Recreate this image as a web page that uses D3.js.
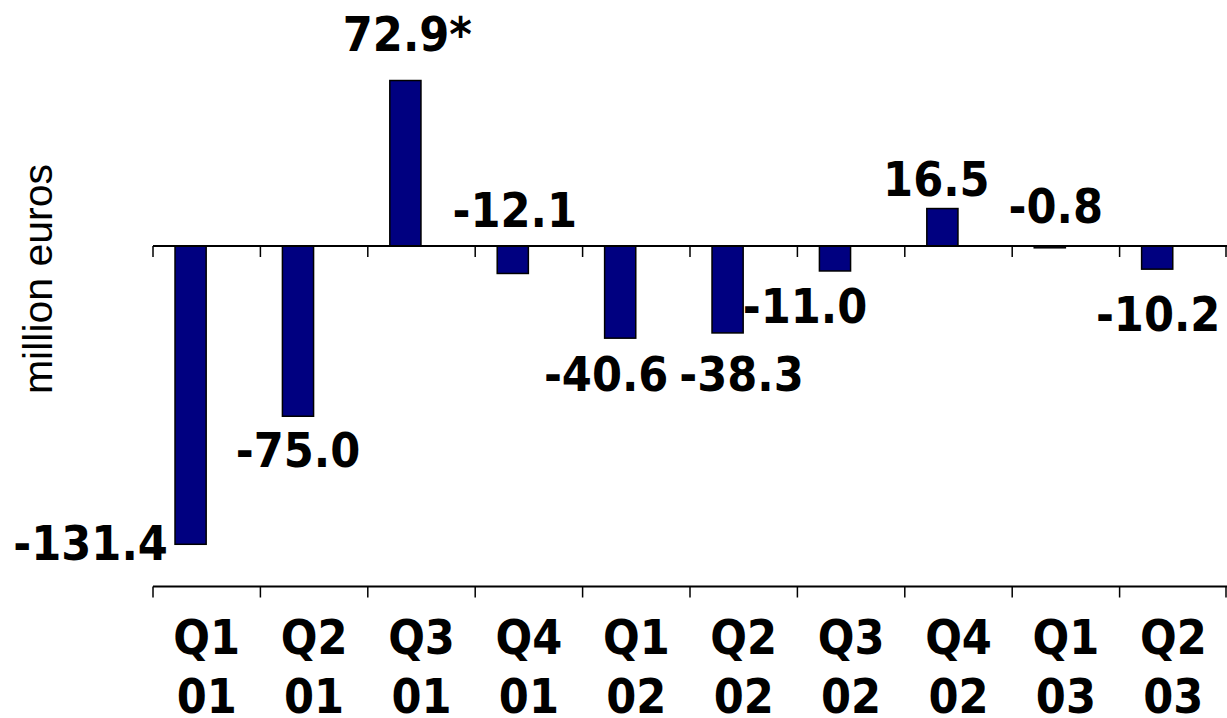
<!DOCTYPE html>
<html>
<head>
<meta charset="utf-8">
<script src="https://cdn.jsdelivr.net/npm/d3@7/dist/d3.min.js"></script>
<style>
  html, body { margin: 0; padding: 0; background: #fff; }
  svg { display: block; }
</style>
</head>
<body>
<svg></svg>
<script>
// DATA
const quarters = ['Q1', 'Q2', 'Q3', 'Q4', 'Q1', 'Q2', 'Q3', 'Q4', 'Q1', 'Q2'];
const years = ['01', '01', '01', '01', '02', '02', '02', '02', '03', '03'];
const values = [-131.4, -75.0, 72.9, -12.1, -40.6, -38.3, -11.0, 16.5, -0.8, -10.2];
const valueLabels = ['-131.4', '-75.0', '72.9*', '-12.1', '-40.6', '-38.3', '-11.0', '16.5', '-0.8', '-10.2'];

// label nudges (px), relative to the bar end
const labelDx = [-100, 0, 2, 2, -14, 14, -30, -6, 6, 1];
const labelDy = [16, 51, -30, -46, 53, 58, 52, -13, -25, 62];

const WIDTH = 1227, HEIGHT = 718;
const PLOT = { left: 153, right: 1227, top: 19, bottom: 586.5 };
const BAR_FILL = '#000080';
const BOLD_FONT = '"DejaVu Sans Condensed", "DejaVu Sans", sans-serif';

const keys = quarters.map((q, i) => i);

const x = d3.scaleBand().domain(keys).range([PLOT.left, PLOT.right]).padding(0);
const y = d3.scaleLinear().domain([-150, 100]).range([PLOT.bottom, PLOT.top]);

const bw = x.bandwidth();
const barWidth = bw * 0.29;
const barCenter = i => x(i) + bw * 0.35;

const svg = d3.select('svg').attr('width', WIDTH).attr('height', HEIGHT);

// bars
svg.selectAll('.bar')
    .data(keys)
    .enter()
    .append('rect')
    .classed('bar', true)
    .attr('x', i => barCenter(i) - barWidth / 2)
    .attr('y', i => y(Math.max(0, values[i])))
    .attr('width', barWidth)
    .attr('height', i => Math.abs(y(values[i]) - y(0)))
    .style('fill', BAR_FILL)
    .style('stroke', '#000')
    .style('stroke-width', 1.5);

// band boundaries for tick marks
const boundaries = keys.map(i => x(i)).concat([PLOT.right - 1]);

function drawAxisLine(yPos) {
    svg.append('line')
        .attr('x1', PLOT.left).attr('x2', PLOT.right)
        .attr('y1', yPos).attr('y2', yPos)
        .style('stroke', '#000').style('stroke-width', 2);
    svg.selectAll(null)
        .data(boundaries)
        .enter()
        .append('line')
        .attr('x1', d => d).attr('x2', d => d)
        .attr('y1', yPos).attr('y2', yPos + 11)
        .style('stroke', '#000').style('stroke-width', 1.5);
}

drawAxisLine(y(0));
drawAxisLine(PLOT.bottom);

// value labels
svg.selectAll('.value-label')
    .data(keys)
    .enter()
    .append('text')
    .classed('value-label', true)
    .text(i => valueLabels[i])
    .attr('x', i => barCenter(i) + labelDx[i])
    .attr('y', i => y(values[i]) + labelDy[i])
    .style('font-family', BOLD_FONT)
    .style('font-size', '48px')
    .style('font-weight', 'bold')
    .style('fill', '#000')
    .style('text-anchor', 'middle');

// category labels
const catLabels = svg.selectAll('.cat-label')
    .data(keys)
    .enter()
    .append('text')
    .classed('cat-label', true)
    .attr('x', i => x(i) + bw / 2)
    .attr('y', 654)
    .style('font-family', BOLD_FONT)
    .style('font-size', '48px')
    .style('font-weight', 'bold')
    .style('fill', '#000')
    .style('text-anchor', 'middle');

catLabels.append('tspan').text(i => quarters[i]);
catLabels.append('tspan')
    .attr('x', i => x(i) + bw / 2)
    .attr('dy', 59)
    .text(i => years[i]);

// y-axis title
svg.append('text')
    .text('million euros')
    .attr('transform', 'translate(52,279) rotate(-90)')
    .style('font-family', '"Liberation Sans", Arial, sans-serif')
    .style('font-size', '41px')
    .style('fill', '#000')
    .style('text-anchor', 'middle');
</script>
</body>
</html>
